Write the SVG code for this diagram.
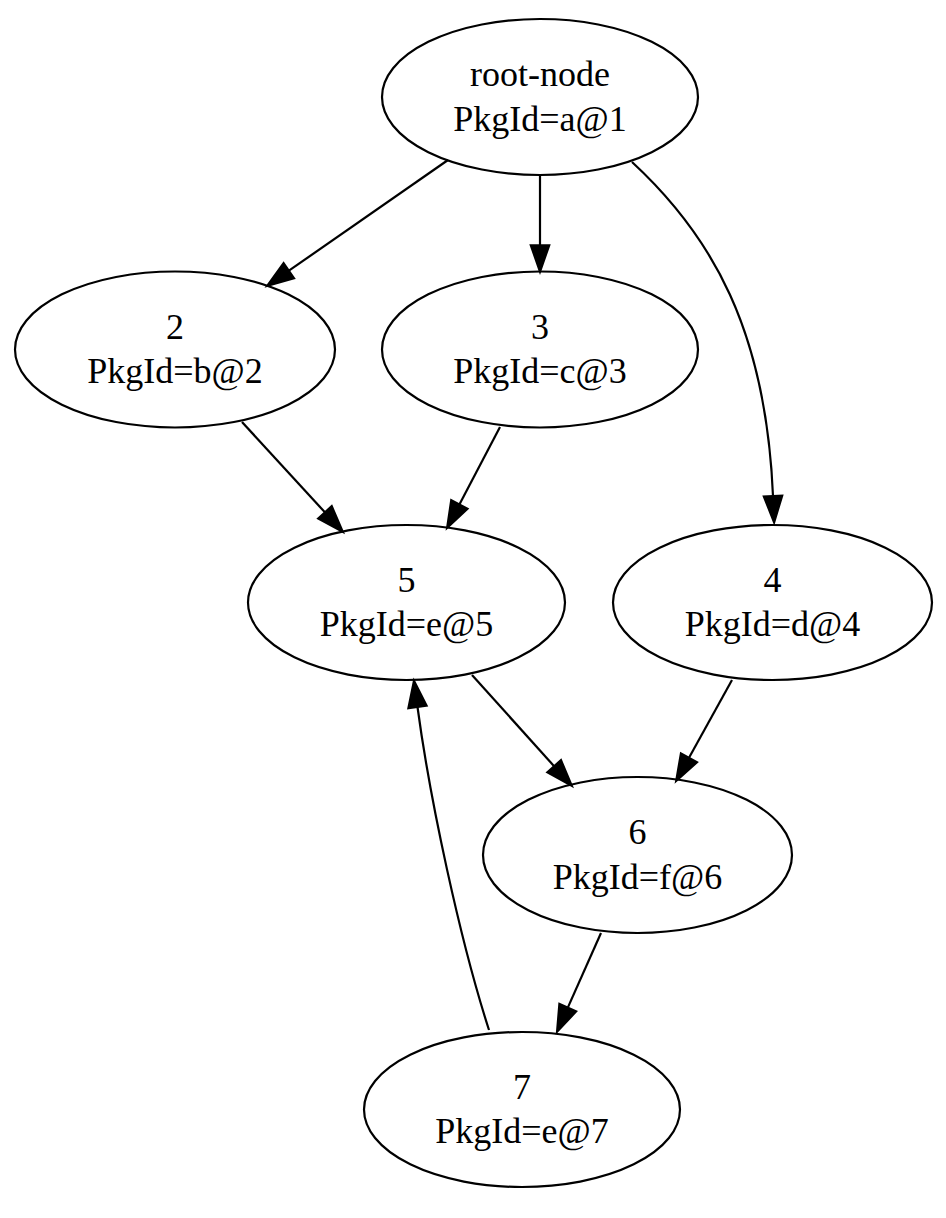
<svg xmlns="http://www.w3.org/2000/svg" width="946" height="1218" viewBox="0 0 946 1218">
<style>
.node ellipse{fill:none;stroke:#000;stroke-width:2.2}
.node text{font-family:"Liberation Serif","Times New Roman",serif;font-size:36px;fill:#000;text-anchor:middle}
.edges path{fill:none;stroke:#000;stroke-width:2.2;marker-end:url(#arr)}
</style>
<defs>
<marker id="arr" markerUnits="userSpaceOnUse" markerWidth="30" markerHeight="22" refX="0" refY="9.3" orient="auto" viewBox="0 0 30 18.6" overflow="visible">
<path d="M0,0 L26.7,9.3 L0,18.6 Z" fill="#000" stroke="#000" stroke-width="2"/>
</marker>
</defs>
<rect width="946" height="1218" fill="#fff"/>
<g id="edges" class="edges">
<path d="M448,160 L288.9,270.7"/>
<path d="M540,175 L540,245.3"/>
<path d="M632,162 C712,236 766,330 773,496"/>
<path d="M242,422 L324.9,512.3"/>
<path d="M500,427 L459.4,504.4"/>
<path d="M472,675 L554.1,766.2"/>
<path d="M732,680 L689,757.7"/>
<path d="M601,933 L567.8,1007.6"/>
<path d="M489,1030 C460,940 430,800 417.5,707"/>
</g>
<g id="node-root" class="node"><ellipse cx="540" cy="97" rx="158" ry="78"/><text x="540" y="86">root-node</text><text x="540" y="130.5">PkgId=a@1</text></g>
<g id="node-2" class="node"><ellipse cx="175" cy="349.5" rx="160" ry="78"/><text x="175" y="338.5">2</text><text x="175" y="383">PkgId=b@2</text></g>
<g id="node-3" class="node"><ellipse cx="540" cy="349.5" rx="158" ry="78"/><text x="540" y="338.5">3</text><text x="540" y="383">PkgId=c@3</text></g>
<g id="node-5" class="node"><ellipse cx="406.5" cy="602.5" rx="158.5" ry="77.5"/><text x="406.5" y="591.5">5</text><text x="406.5" y="636">PkgId=e@5</text></g>
<g id="node-4" class="node"><ellipse cx="772.5" cy="602.5" rx="159.5" ry="77.5"/><text x="772.5" y="591.5">4</text><text x="772.5" y="636">PkgId=d@4</text></g>
<g id="node-6" class="node"><ellipse cx="637.5" cy="855" rx="154.5" ry="78"/><text x="637.5" y="844">6</text><text x="637.5" y="888.5">PkgId=f@6</text></g>
<g id="node-7" class="node"><ellipse cx="522" cy="1109.5" rx="158" ry="77.5"/><text x="522" y="1098.5">7</text><text x="522" y="1143">PkgId=e@7</text></g>
</svg>
